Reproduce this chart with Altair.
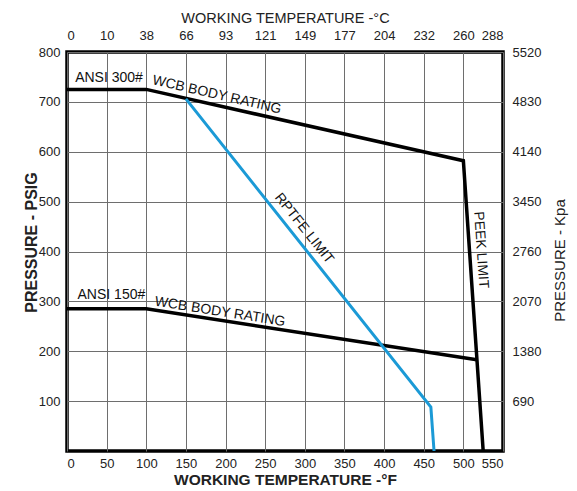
import altair as alt
import pandas as pd

# ---- axis ticks / labels ----
TEMP_F_TICKS = [0, 50, 100, 150, 200, 250, 300, 350, 400, 450, 500, 550]
TEMP_C_LABELS = ["0", "10", "38", "66", "93", "121", "149", "177", "204", "232", "260", "288"]
PSI_TICKS = [100, 200, 300, 400, 500, 600, 700, 800]
KPA_LABELS = ["690", "1380", "2070", "2760", "3450", "4140", "4830", "5520"]

# ---- series ----
ANSI300_F = [0, 100, 500, 525]
ANSI300_PSI = [725, 725, 582, 0]
ANSI150_F = [0, 100, 517]
ANSI150_PSI = [285, 285, 183]
RPTFE_F = [150, 459, 463]
RPTFE_PSI = [706, 88, 0]

# ---- annotations ----
ANN_TEXT = ["ANSI 300#", "WCB BODY RATING", "ANSI 150#", "WCB BODY RATING", "RPTFE LIMIT", "PEEK LIMIT"]
ANN_F = [53, 189, 56, 193, 299, 522]
ANN_PSI = [748, 714, 313, 279, 446, 403]
ANN_ANGLE = [0, 13, 0, 9, 51.5, 86]

FONT = "Liberation Sans"

black_df = pd.DataFrame({
    "f": ANSI300_F + ANSI150_F,
    "psi": ANSI300_PSI + ANSI150_PSI,
    "series": ["ANSI 300#"] * len(ANSI300_F) + ["ANSI 150#"] * len(ANSI150_F),
    "order": list(range(len(ANSI300_F))) + list(range(len(ANSI150_F))),
})
blue_df = pd.DataFrame({"f": RPTFE_F, "psi": RPTFE_PSI, "order": list(range(len(RPTFE_F)))})
ann_df = pd.DataFrame({"text": ANN_TEXT, "f": ANN_F, "psi": ANN_PSI, "angle": ANN_ANGLE})

xscale = alt.Scale(domain=[0, 550], nice=False, zero=False)
yscale = alt.Scale(domain=[0, 800], nice=False)

c_expr = "[" + ",".join("'%s'" % s for s in TEMP_C_LABELS) + "][round(datum.value/50)]"
k_expr = "[" + ",".join("'%s'" % s for s in KPA_LABELS) + "][round(datum.value/100)-1]"

common_axis = dict(domain=False, ticks=False, labelFont=FONT, labelFontSize=13,
                   labelColor="#222", titleFont=FONT, titleColor="#222")

black = alt.Chart(black_df).mark_line(color="black", strokeWidth=3.5, strokeJoin="miter").encode(
    x=alt.X("f:Q", scale=xscale,
            axis=alt.Axis(orient="bottom", values=TEMP_F_TICKS, title="WORKING TEMPERATURE -°F",
                          grid=True, gridColor="#6e6e6e", gridWidth=1, labelPadding=6,
                          titleFontSize=15.5, titleFontWeight="bold", titlePadding=2, **common_axis)),
    y=alt.Y("psi:Q", scale=yscale,
            axis=alt.Axis(orient="left", values=PSI_TICKS, title="PRESSURE - PSIG",
                          grid=True, gridColor="#6e6e6e", gridWidth=1, labelPadding=7,
                          titleAngle=270, titleX=-36, titleY=190, titleAlign="center",
                          titleBaseline="middle",
                          titleFontSize=16, titleFontWeight="bold", **common_axis)),
    detail="series:N",
    order="order:Q",
)

blue = alt.Chart(blue_df).mark_line(color="#1b9ad6", strokeWidth=3).encode(
    x=alt.X("f:Q", scale=xscale,
            axis=alt.Axis(orient="top", values=TEMP_F_TICKS, labelExpr=c_expr,
                          title="WORKING TEMPERATURE -°C", grid=False, labelPadding=10,
                          titleFontSize=14.5, titleFontWeight="normal", titlePadding=4, **common_axis)),
    y=alt.Y("psi:Q", scale=yscale,
            axis=alt.Axis(orient="right", values=PSI_TICKS, labelExpr=k_expr,
                          title="PRESSURE - Kpa", grid=False, labelPadding=9, titleAngle=270,
                          titleX=56, titleY=208, titleAlign="center", titleBaseline="middle",
                          titleFontSize=15, titleFontWeight="normal", **common_axis)),
    order="order:Q",
)

ann = alt.Chart(ann_df).mark_text(font=FONT, fontSize=14, color="#111", align="center",
                                   baseline="middle").encode(
    x=alt.X("f:Q", scale=xscale, axis=None),
    y=alt.Y("psi:Q", scale=yscale, axis=None),
    text="text:N",
    angle=alt.Angle("angle:Q", scale=None),
)

chart = alt.layer(black, blue, ann).resolve_axis(x="independent", y="independent").properties(
    width=436, height=399,
    autosize=alt.AutoSizeParams(type="none"),
    padding={"left": 59, "top": 44, "right": 66, "bottom": 40},
).configure_view(stroke="black", strokeWidth=3.5)

chart.save("out.html", embed_options={"renderer": "svg", "actions": False})
